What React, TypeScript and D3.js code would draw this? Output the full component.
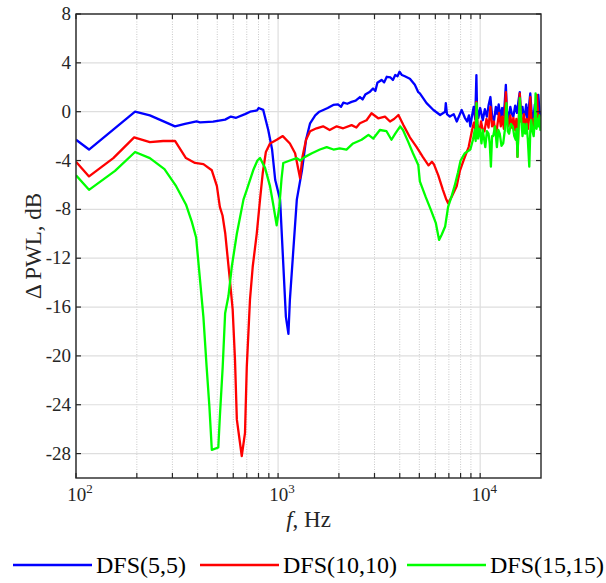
import React from 'react';
import * as d3 from 'd3';

const yTicks = [8, 4, 0, -4, -8, -12, -16, -20, -24, -28];
const xMajorTicks = [100, 1000, 10000];
const xMajorExps = ['2', '3', '4'];
const xMinorTicks = [200, 300, 400, 500, 600, 700, 800, 900, 2000, 3000, 4000, 5000, 6000, 7000, 8000, 9000];

const seriesNames = ['DFS(5,5)', 'DFS(10,10)', 'DFS(15,15)'];
const seriesColors = ['#0000ff', '#ff0000', '#00ff00'];

const dfs55Freq = [100, 116, 196, 232, 309, 346, 395, 411, 477, 547, 584, 620, 686, 727, 787, 801, 844, 894, 934, 968, 1023, 1093, 1125, 1144, 1238, 1313, 1375, 1440, 1527, 1600, 1674, 1760, 1875, 1980, 2050, 2103, 2200, 2310, 2420, 2541, 2620, 2700, 2850, 2950, 3030, 3100, 3250, 3350, 3450, 3600, 3700, 3800, 3900, 3990, 4100, 4240, 4490, 4750, 4940, 5030, 5430, 5870, 6340, 6710, 6760, 6850, 7080, 7400, 7660, 8100, 8400, 8620, 8800, 8940, 9100, 9290, 9450, 9580, 9650, 9800, 10000, 10300, 10550, 10800, 11000, 11240, 11450, 11700, 11950, 12150, 12350, 12600, 12850, 13000, 13200, 13400, 13550, 13800, 14100, 14350, 14600, 14900, 15200, 15450, 15700, 15900, 16200, 16450, 16700, 16900, 17100, 17400, 17700, 17950, 18200, 18400, 18650, 18850, 19100, 19400, 19650, 20000];
const dfs55Db = [-2.3, -3.1, 0, -0.3, -1.2, -1.0, -0.8, -0.87, -0.82, -0.65, -0.4, -0.5, -0.2, 0, 0.1, 0.3, 0.15, -1.5, -3.1, -5.6, -7.2, -16.8, -18.2, -15.4, -7.2, -4.8, -2.3, -0.95, -0.3, 0, 0.14, 0.3, 0.55, 0.6, 0.4, 0.74, 0.65, 0.8, 0.9, 1.2, 1.0, 1.4, 1.64, 1.9, 1.7, 2.37, 2.6, 2.4, 2.86, 2.8, 2.6, 3.0, 2.9, 3.27, 3.0, 2.9, 2.7, 2.2, 1.6, 1.5, 0.7, 0.14, -0.27, 0, 0.7, -0.2, -0.4, -0.2, -0.8, 0.14, -0.5, -0.8, -0.3, -1.2, -0.4, 0.4, -0.6, 3.0, 0.2, -0.5, 0.3, -0.7, 0.2, -0.4, 0.5, 1.2, -0.3, -0.8, 0.4, -0.2, 0.6, -0.5, 0.3, -0.3, 0.5, 2.2, 0.1, -0.6, 0.4, -0.2, -0.4, 0.5, -0.1, 0.8, 1.6, -0.2, 0.4, -0.5, -0.1, 0.6, -0.6, 0.3, 1.5, 0.1, -0.6, -0.4, 0.6, -0.2, 0.8, 1.37, 0.1, -0.4];

const dfs1010Freq = [100, 116, 153, 194, 232, 270, 309, 350, 388, 427, 470, 498, 515, 531, 548, 579, 596, 612, 625, 661, 686, 700, 726, 749, 784, 814, 840, 870, 912, 985, 1055, 1144, 1214, 1285, 1320, 1375, 1440, 1550, 1670, 1800, 1950, 2100, 2310, 2440, 2540, 2740, 2900, 3130, 3380, 3580, 3750, 3940, 4170, 4490, 4850, 5200, 5550, 5770, 5900, 6200, 6540, 6800, 6940, 7210, 7650, 7950, 8270, 8770, 9120, 9300, 9450, 9580, 9700, 9900, 10100, 10300, 10500, 10750, 11000, 11240, 11450, 11700, 11900, 12100, 12400, 12650, 12850, 13100, 13400, 13600, 13800, 14100, 14350, 14600, 14900, 15100, 15300, 15500, 15700, 15950, 16200, 16450, 16700, 17000, 17250, 17500, 17700, 17950, 18200, 18400, 18650, 18850, 19100, 19350, 19600, 19800, 20000];
const dfs1010Db = [-4.1, -5.3, -3.8, -2.1, -2.5, -2.4, -2.4, -3.8, -4.2, -4.3, -4.8, -6.1, -7.8, -8.5, -10, -14, -16.2, -20.3, -25.2, -28.2, -26.3, -20.9, -15.4, -12.7, -10, -7.2, -5.0, -3.3, -2.6, -2.3, -2.0, -2.6, -3.4, -5.45, -3.7, -2.3, -1.6, -1.36, -1.2, -1.5, -1.2, -1.36, -1.1, -1.3, -0.95, -0.7, -0.13, -0.54, -0.4, -0.8, -0.6, -0.27, -1.1, -2.1, -2.9, -3.7, -4.4, -4.1, -4.3, -5.2, -6.4, -7.2, -7.5, -7.0, -6.1, -4.8, -4.0, -2.9, -1.5, -0.9, -1.4, 0.8, -1.0, -1.8, -0.8, -1.5, -1.6, -0.6, -1.3, 0.4, -1.2, -0.8, -1.9, -1.4, -0.1, -1.2, -0.4, -1.4, 1.6, -0.6, -1.2, -0.3, -1.3, -0.5, -1.5, -0.6, -3.7, -0.8, 1.5, -0.8, -0.95, -0.2, -1.1, -0.6, -1.4, -0.3, 1.2, -0.8, -1.3, -0.6, -1.2, 0.3, 1.37, -0.5, -0.3, -1.2, -0.7];

const dfs1515Freq = [100, 116, 156, 196, 232, 274, 313, 350, 374, 393, 411, 427, 443, 457, 470, 506, 515, 532, 547, 568, 590, 625, 674, 700, 753, 790, 814, 862, 912, 944, 984, 1014, 1040, 1061, 1144, 1238, 1285, 1360, 1470, 1610, 1740, 1880, 2020, 2180, 2350, 2590, 2800, 2960, 3190, 3440, 3640, 3800, 4020, 4150, 4400, 4650, 4940, 5030, 5380, 5690, 6030, 6260, 6440, 6710, 6940, 7200, 7470, 7760, 8000, 8400, 8940, 9210, 9400, 9500, 9600, 9750, 9950, 10150, 10300, 10450, 10600, 10800, 11000, 11150, 11300, 11450, 11600, 11850, 12100, 12300, 12500, 12750, 13000, 13250, 13500, 13700, 13900, 14200, 14500, 14750, 15000, 15150, 15300, 15500, 15700, 15950, 16200, 16450, 16700, 16950, 17200, 17500, 17700, 17900, 18150, 18400, 18600, 18800, 19000, 19200, 19400, 19650, 19850, 20000];
const dfs1515Db = [-5.2, -6.4, -4.85, -3.3, -3.8, -4.7, -6.1, -7.6, -9.0, -10.3, -13.8, -16.8, -20.9, -24.1, -27.7, -27.5, -25, -20.9, -16.5, -15.1, -12.7, -10, -7.2, -6.4, -4.8, -4.0, -3.8, -4.6, -6.1, -7.5, -9.3, -7.8, -5.5, -4.2, -4.0, -3.8, -4.0, -3.7, -3.4, -3.1, -2.9, -3.1, -3.0, -3.1, -2.6, -2.3, -1.9, -2.2, -1.5, -1.6, -2.3, -1.8, -1.2, -1.5, -2.45, -3.4, -4.36, -5.7, -7.0, -8.0, -9.1, -10.5, -10.1, -9.4, -7.8, -7.0, -6.1, -5.0, -4.0, -3.4, -3.1, -2.3, -1.5, -2.4, 0.7, -2.2, -1.4, -2.6, -1.5, -2.2, -2.9, -1.6, -1.8, -2.6, -4.5, -2.0, -2.0, -1.2, -2.9, -1.5, -1.8, -2.8, -2.6, -1.5, 0.7, -1.6, -1.8, -1.0, -1.2, -2.0, -2.3, -1.4, -3.7, -1.2, 1.1, -0.6, -2.0, -1.0, -1.8, -1.0, -2.2, -4.5, -1.6, -0.7, -1.6, -2.0, -0.9, 1.5, -1.4, -0.6, -1.2, -0.3, -1.5, -0.7];

const W = 606;
const H = 583;
const left = 76;
const right = 541;
const top = 14;
const bottom = 478;
const axisColor = '#262626';
const tf = { fontFamily: "'Liberation Serif'" };

export default function App() {
  const x = d3.scaleLog().domain([100, 20000]).range([left, right]);
  const y = d3.scaleLinear().domain([-30, 8]).range([bottom, top]);

  const series = [
    { f: dfs55Freq, v: dfs55Db },
    { f: dfs1010Freq, v: dfs1010Db },
    { f: dfs1515Freq, v: dfs1515Db },
  ];

  const line = d3
    .line<[number, number]>()
    .x((d) => x(d[0]))
    .y((d) => y(d[1]));

  const legendX = [13, 200, 407];
  const legendY = 565;

  return (
    <svg
      width={W}
      height={H}
      style={{ position: 'absolute', left: 0, top: 0, background: '#fff' }}
    >
      <defs>
        <clipPath id="plotclip">
          <rect x={left} y={top} width={right - left} height={bottom - top} />
        </clipPath>
      </defs>
      <rect x={0} y={0} width={W} height={H} fill="#fff" />
      {xMinorTicks.map((t) => (
        <line
          key={'mg' + t}
          x1={x(t)}
          x2={x(t)}
          y1={top}
          y2={bottom}
          stroke="#c8c8c8"
          strokeWidth={1}
          strokeDasharray="1,1.5"
        />
      ))}
      {xMajorTicks.map((t) => (
        <line key={'Mg' + t} x1={x(t)} x2={x(t)} y1={top} y2={bottom} stroke="#dedede" strokeWidth={1.2} />
      ))}
      {yTicks.map((t) => (
        <line key={'yg' + t} x1={left} x2={right} y1={y(t)} y2={y(t)} stroke="#dedede" strokeWidth={1.2} />
      ))}
      <g clipPath="url(#plotclip)">
        {series.map((s, i) => (
          <path
            key={i}
            d={line(s.f.map((f, j) => [f, s.v[j]] as [number, number])) || ''}
            fill="none"
            stroke={seriesColors[i]}
            strokeWidth={2.3}
            strokeLinejoin="round"
          />
        ))}
      </g>
      <rect x={left} y={top} width={right - left} height={bottom - top} fill="none" stroke={axisColor} strokeWidth={1.4} />
      {yTicks.map((t) => (
        <g key={'yt' + t}>
          <line x1={left} x2={left + 5} y1={y(t)} y2={y(t)} stroke={axisColor} strokeWidth={1.2} />
          <line x1={right} x2={right - 5} y1={y(t)} y2={y(t)} stroke={axisColor} strokeWidth={1.2} />
          <text x={71} y={y(t) + 6} textAnchor="end" fontSize={19} fill={axisColor} style={tf}>
            {t < 0 ? '-' + Math.abs(t) : String(t)}
          </text>
        </g>
      ))}
      {[...xMajorTicks, ...xMinorTicks].map((t) => (
        <g key={'xt' + t}>
          <line x1={x(t)} x2={x(t)} y1={bottom} y2={bottom - 5} stroke={axisColor} strokeWidth={1.2} />
          <line x1={x(t)} x2={x(t)} y1={top} y2={top + 5} stroke={axisColor} strokeWidth={1.2} />
        </g>
      ))}
      {xMajorTicks.map((t, i) => (
        <text key={'xl' + t} x={x(t) + 4} y={501} textAnchor="middle" fontSize={19} fill={axisColor} style={tf}>
          10
          <tspan fontSize={13} dy={-8}>
            {xMajorExps[i]}
          </tspan>
        </text>
      ))}
      <text x={(left + right) / 2} y={527} textAnchor="middle" fontSize={23} fill={axisColor} style={tf}>
        <tspan fontStyle="italic">f</tspan>, Hz
      </text>
      <text
        transform={`translate(41, ${(top + bottom) / 2}) rotate(-90)`}
        textAnchor="middle"
        fontSize={23}
        fill={axisColor}
        style={tf}
      >
        Δ PWL, dB
      </text>
      {seriesNames.map((n, i) => (
        <g key={'lg' + i}>
          <line
            x1={legendX[i]}
            x2={legendX[i] + 79}
            y1={legendY}
            y2={legendY}
            stroke={seriesColors[i]}
            strokeWidth={2.3}
          />
          <text x={legendX[i] + 83} y={legendY + 8} fontSize={24} fill="#000" style={tf}>
            {n}
          </text>
        </g>
      ))}
    </svg>
  );
}
